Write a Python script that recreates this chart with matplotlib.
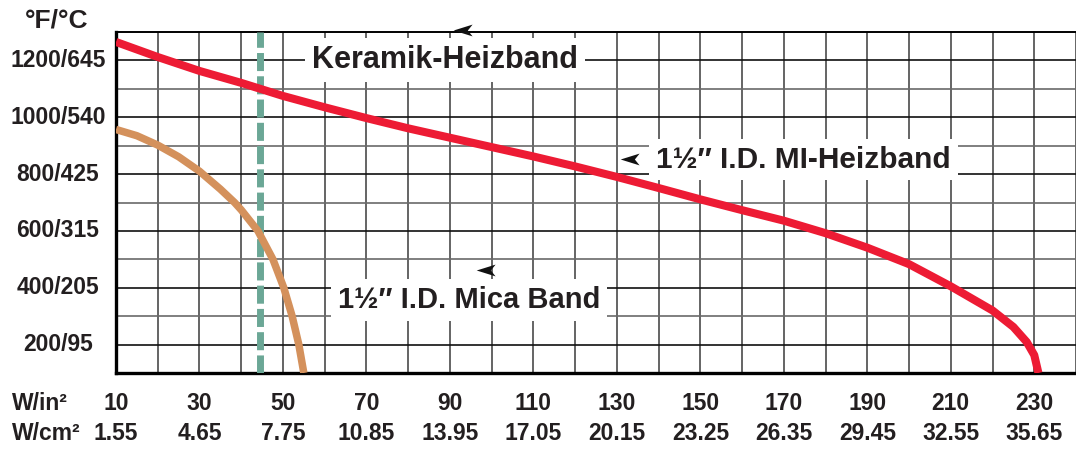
import matplotlib
matplotlib.use("Agg")
import matplotlib.pyplot as plt
from matplotlib.path import Path
import matplotlib.transforms as mtransforms

plt.rcParams['font.family'] = ['Liberation Sans', 'DejaVu Sans']
plt.rcParams['font.weight'] = 'bold'

# ---- data ----
mi_w = [10, 20, 30, 40, 50, 60, 70, 80, 90, 100, 110, 120, 130, 140, 150, 160, 170, 180,
        190, 200, 210, 220, 225, 228.2, 230, 231]
mi_t = [1265, 1212, 1163, 1121, 1075, 1035, 997, 961, 928, 895, 862, 827, 790, 751, 711,
        673, 636, 592, 541, 483, 405, 320, 262, 209, 163, 100]

mica_w = [10, 15, 20, 25, 30, 35, 38.4, 40, 44, 47.6, 50.2, 52.2, 53.8, 55]
mica_t = [957, 935, 902, 861, 810, 747, 700, 674, 600, 500, 400, 300, 200, 100]

limit_w = 44.6

y_ticks = [200, 400, 600, 800, 1000, 1200]
y_labels = ['200/95', '400/205', '600/315', '800/425', '1000/540', '1200/645']
x_ticks = [10, 30, 50, 70, 90, 110, 130, 150, 170, 190, 210, 230]
x_labels_in = ['10', '30', '50', '70', '90', '110', '130', '150', '170', '190', '210', '230']
x_labels_cm = ['1.55', '4.65', '7.75', '10.85', '13.95', '17.05', '20.15', '23.25',
               '26.35', '29.45', '32.55', '35.65']

RED = '#ED1B34'
TAN = '#D4915C'
TEAL = '#6BA796'
INK = '#231f20'

W, H = 1076, 450
fig = plt.figure(figsize=(W / 100, H / 100), dpi=100)
ax = fig.add_axes([116 / W, 1 - 373 / H, 1 - 116 / W, (373 - 32) / H])
ax.set_xlim(10, 240)
ax.set_ylim(100, 1300)

# grid
for xv in range(20, 241, 10):
    ax.axvline(xv, color='#3a3a3a', lw=1.1, zorder=1)
for yv in range(200, 1300, 100):
    c = '#111111' if yv % 200 == 0 else '#6a6a6a'
    ax.axhline(yv, color=c, lw=1.2, zorder=1)

ax.spines['right'].set_visible(False)
ax.spines['left'].set_linewidth(2.4)
ax.spines['bottom'].set_linewidth(2.4)
ax.spines['top'].set_linewidth(1.4)
ax.set_xticks([])
ax.set_yticks([])

# dashed limit
ax.axvline(limit_w, color=TEAL, lw=5.0, dashes=(2.6, 0.75), dash_capstyle='butt', zorder=3)

# curves
ax.plot(mica_w, mica_t, color=TAN, lw=5.4, solid_capstyle='butt', solid_joinstyle='round', zorder=4)
ax.plot(mi_w, mi_t, color=RED, lw=5.8, solid_capstyle='butt', solid_joinstyle='round', zorder=4)

# labels with white boxes
box = dict(facecolor='white', edgecolor='none', pad=5)
ax.text(57.0, 1200, 'Keramik-Heizband', fontsize=22, fontweight='bold', color=INK,
        ha='left', va='center', bbox=box, zorder=5)
ax.text(139.4, 851, '1\u00bd\u2033 I.D. MI-Heizband', fontsize=21.5, fontweight='bold',
        color=INK, ha='left', va='center', bbox=box, zorder=5)
ax.text(63.2, 356, '1\u00bd\u2033 I.D. Mica Band', fontsize=21, fontweight='bold',
        color=INK, ha='left', va='center', bbox=box, zorder=5)

# arrowheads
arrow = Path([(-1, 0), (0.6, 0.5), (0.2, 0), (0.6, -0.5), (-1, 0)],
             [Path.MOVETO, Path.LINETO, Path.LINETO, Path.LINETO, Path.CLOSEPOLY])
for (aw, at) in [(93.5, 1306), (133.6, 854), (99.1, 461)]:
    ax.plot([aw], [at], marker=arrow, markersize=17, color='#111111', mec='none',
            clip_on=False, zorder=6)

# y labels
for yv, lab in zip(y_ticks, y_labels):
    fy = (1 - 373 / H) + (yv - 100) / 1200 * ((373 - 32) / H)
    fig.text(58 / W, fy, lab, fontsize=16.5, fontweight='bold', color=INK,
             ha='center', va='center')
fig.text(57 / W, 1 - 20 / H, '\u00b0F/\u00b0C', fontsize=19, fontweight='bold',
         color=INK, ha='center', va='center')

# x labels
trans = mtransforms.blended_transform_factory(ax.transData, fig.transFigure)
for xv, l1, l2 in zip(x_ticks, x_labels_in, x_labels_cm):
    ax.text(xv, 1 - 403 / H, l1, transform=trans, fontsize=16.5, fontweight='bold',
            color=INK, ha='center', va='center')
    ax.text(xv, 1 - 433 / H, l2, transform=trans, fontsize=16.5, fontweight='bold',
            color=INK, ha='center', va='center')
fig.text(12 / W, 1 - 403 / H, 'W/in\u00b2', fontsize=16.5, fontweight='bold',
         color=INK, ha='left', va='center')
fig.text(12 / W, 1 - 433 / H, 'W/cm\u00b2', fontsize=16.5, fontweight='bold',
         color=INK, ha='left', va='center')

fig.savefig('out.png', dpi=100, facecolor='white')
